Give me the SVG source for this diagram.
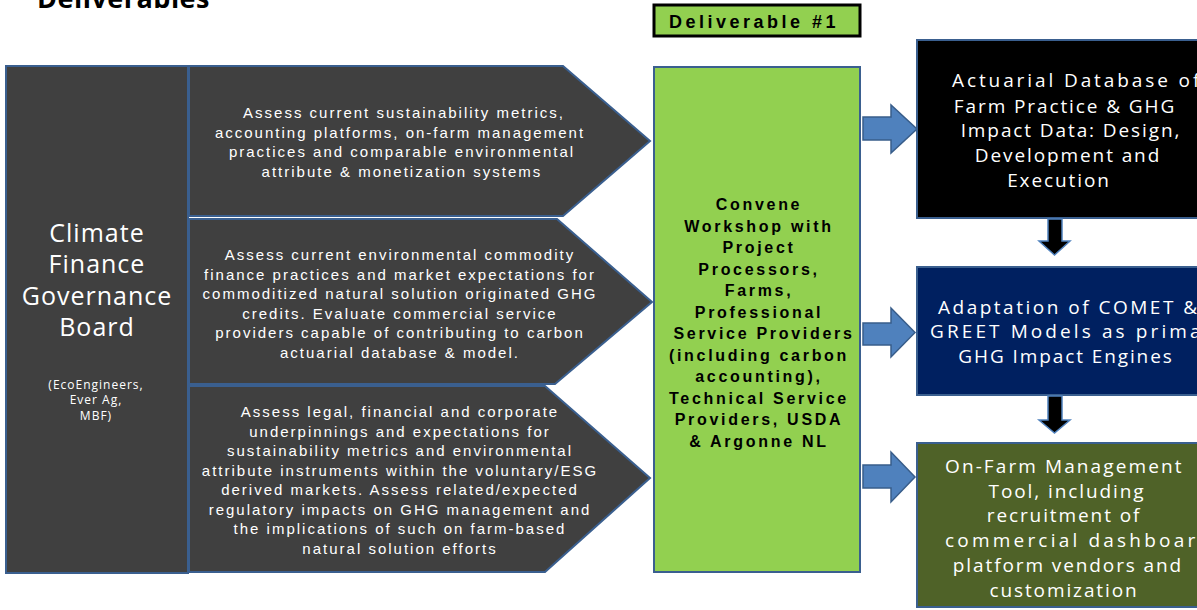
<svg xmlns="http://www.w3.org/2000/svg" width="1197" height="610" viewBox="0 0 1197 610">
<style>
.gray{fill:#404040;stroke:#3a5f8f;stroke-width:2}
.gt{font-family:"Liberation Sans",Arial,sans-serif;font-size:15px;letter-spacing:2px;fill:#ffffff;text-anchor:middle}
.lt{font-family:"Open Sans","Liberation Sans",sans-serif;fill:#ffffff;text-anchor:middle}
.green{fill:#92d050;stroke:#3a5f8f;stroke-width:2}
.gr{font-family:"Liberation Sans",Arial,sans-serif;font-size:16px;font-weight:bold;letter-spacing:2.7px;fill:#000000;text-anchor:middle}
.rt{font-family:"Open Sans","Liberation Sans",sans-serif;font-size:19px;letter-spacing:1.9px;fill:#ffffff}
.rbox{stroke:#3a5f8f;stroke-width:2}
.barrow{fill:#4f81bd;stroke:#385d8a;stroke-width:1.5}
.darrow{fill:#000000;stroke:#4f81bd;stroke-width:1.5}
</style>
<text x="37" y="8" font-family="'Open Sans','Liberation Sans',sans-serif" font-size="27" font-weight="bold" letter-spacing="0.5" fill="#000000">Deliverables</text>

<g id="board">
<rect x="6" y="66" width="182" height="507" class="gray"/>
<text class="lt" font-size="25" letter-spacing="1"><tspan x="97" y="242">Climate</tspan><tspan x="97" y="273">Finance</tspan><tspan x="97" y="305">Governance</tspan><tspan x="97" y="336">Board</tspan></text>
<text class="lt" font-size="12" letter-spacing="1"><tspan x="96" y="389">(EcoEngineers,</tspan><tspan x="96" y="404">Ever Ag,</tspan><tspan x="96" y="420">MBF)</tspan></text>
</g>

<g id="assess1">
<path d="M189,66 H563 L650,141 L563,216 H189 Z" class="gray"/>
<text class="gt"><tspan x="404" y="118">Assess current sustainability metrics,</tspan><tspan x="400" y="137.5">accounting platforms, on-farm management</tspan><tspan x="402" y="157">practices and comparable environmental</tspan><tspan x="402" y="176.5">attribute &amp; monetization systems</tspan></text>
</g>

<g id="assess2">
<path d="M189,219 H557 L652,302 L555,384 H189 Z" class="gray"/>
<text class="gt"><tspan x="400" y="260">Assess current environmental commodity</tspan><tspan x="400" y="279.5">finance practices and market expectations for</tspan><tspan x="400" y="299">commoditized natural solution originated GHG</tspan><tspan x="400" y="318.5">credits. Evaluate commercial service</tspan><tspan x="400" y="338">providers capable of contributing to carbon</tspan><tspan x="400" y="357.5">actuarial database &amp; model.</tspan></text>
</g>

<g id="assess3">
<path d="M189,386 H545 L650,478 L545,572 H189 Z" class="gray"/>
<text class="gt"><tspan x="400" y="417">Assess legal, financial and corporate</tspan><tspan x="400" y="436.5">underpinnings and expectations for</tspan><tspan x="400" y="456">sustainability metrics and environmental</tspan><tspan x="400" y="475.5">attribute instruments within the voluntary/ESG</tspan><tspan x="400" y="495">derived markets. Assess related/expected</tspan><tspan x="400" y="514.5">regulatory impacts on GHG management and</tspan><tspan x="400" y="534">the implications of such on farm-based</tspan><tspan x="400" y="553.5">natural solution efforts</tspan></text>
</g>

<g id="deliverable1">
<rect x="654" y="5" width="206" height="31" fill="#92d050" stroke="#000000" stroke-width="3"/>
<text x="754" y="28" font-family="'Liberation Sans',Arial,sans-serif" font-size="18" font-weight="bold" letter-spacing="3.5" text-anchor="middle" fill="#000000">Deliverable #1</text>
</g>

<g id="workshop">
<rect x="654" y="67" width="206" height="505" class="green"/>
<text class="gr"><tspan x="759" y="210">Convene</tspan><tspan x="759" y="231.5">Workshop with</tspan><tspan x="759" y="253">Project</tspan><tspan x="759" y="274.5">Processors,</tspan><tspan x="759" y="296">Farms,</tspan><tspan x="759" y="317.5">Professional</tspan><tspan x="764" y="339">Service Providers</tspan><tspan x="759" y="360.5">(including carbon</tspan><tspan x="759" y="382">accounting),</tspan><tspan x="759" y="403.5">Technical Service</tspan><tspan x="759" y="425">Providers, USDA</tspan><tspan x="759" y="446.5">&amp; Argonne NL</tspan></text>
</g>

<g id="actuarial">
<rect x="917" y="40" width="300" height="178" fill="#000000" class="rbox"/>
<text class="rt"><tspan x="952" y="87" style="letter-spacing:2.9px">Actuarial Database of</tspan><tspan x="1065" y="113" text-anchor="middle">Farm Practice &amp; GHG</tspan><tspan x="1071" y="137" text-anchor="middle">Impact Data: Design,</tspan><tspan x="1068" y="162" text-anchor="middle">Development and</tspan><tspan x="1059" y="187" text-anchor="middle">Execution</tspan></text>
</g>

<g id="adaptation">
<rect x="917" y="267" width="300" height="128" fill="#002060" class="rbox"/>
<text class="rt"><tspan x="938" y="314" style="letter-spacing:2.5px">Adaptation of COMET &amp;</tspan><tspan x="930" y="338" style="letter-spacing:3.1px">GREET Models as primary</tspan><tspan x="1066" y="363" text-anchor="middle">GHG Impact Engines</tspan></text>
</g>

<g id="onfarm">
<rect x="917" y="443" width="300" height="164" fill="#4f6228" class="rbox"/>
<text class="rt"><tspan x="945" y="473" style="letter-spacing:2.1px">On-Farm Management</tspan><tspan x="1067" y="498" text-anchor="middle">Tool, including</tspan><tspan x="1064" y="522" text-anchor="middle">recruitment of</tspan><tspan x="945" y="547" style="letter-spacing:3.2px">commercial dashboard</tspan><tspan x="1068" y="572" text-anchor="middle">platform vendors and</tspan><tspan x="1064" y="597" text-anchor="middle">customization</tspan></text>
</g>

<g id="connectors">
<path d="M863,117 H891 V105 L917,129 L891,153 V140 H863 Z" class="barrow"/>
<path d="M863,323 H891 V308 L915,332.5 L891,357 V345 H863 Z" class="barrow"/>
<path d="M863,465 H891 V452 L915,477 L891,502 V488 H863 Z" class="barrow"/>
<path d="M1048,219 H1062 V241 H1070 L1054.5,255 L1039,241 H1048 Z" class="darrow"/>
<path d="M1048,396 H1062 V420 H1070 L1054.5,433 L1039,420 H1048 Z" class="darrow"/>
</g>
</svg>
